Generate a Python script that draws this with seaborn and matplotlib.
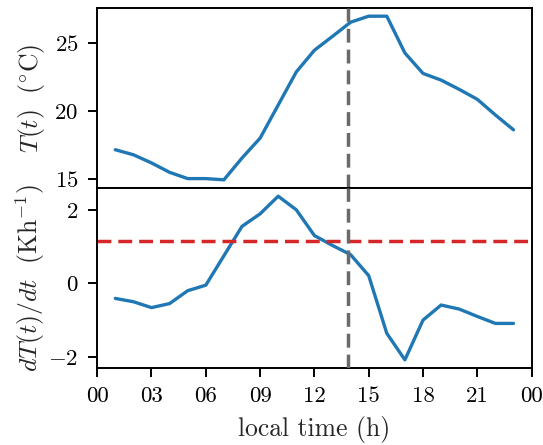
import matplotlib
matplotlib.use("Agg")
import matplotlib.pyplot as plt
import seaborn as sns
import pandas as pd

hours = list(range(1, 24))
temperature = [17.14, 16.77, 16.17, 15.48, 15.02, 15.02, 14.93, 16.53, 17.99, 20.42,
               22.85, 24.44, 25.46, 26.50, 26.94, 26.94, 24.24, 22.74, 22.25, 21.57,
               20.84, 19.69, 18.60]
dTdt = [-0.41, -0.50, -0.66, -0.55, -0.20, -0.05, 0.75, 1.55, 1.89, 2.37,
        2.00, 1.30, 1.03, 0.78, 0.21, -1.36, -2.08, -1.00, -0.59, -0.70,
        -0.90, -1.09, -1.09]
vline_hour = 13.86
threshold = 1.16
xticks = [0, 3, 6, 9, 12, 15, 18, 21, 24]
xticklabels = ["00", "03", "06", "09", "12", "15", "18", "21", "00"]

sns.set_theme(style="ticks")
plt.rcParams["font.family"] = "serif"
plt.rcParams["font.serif"] = ["cmr10", "DejaVu Serif"]
plt.rcParams["mathtext.fontset"] = "cm"
plt.rcParams["axes.formatter.use_mathtext"] = True
plt.rcParams["axes.edgecolor"] = "black"
plt.rcParams["axes.linewidth"] = 1.4
plt.rcParams["xtick.color"] = "black"
plt.rcParams["ytick.color"] = "black"

df = pd.DataFrame({"hour": hours, "T": temperature, "dT": dTdt})

fig, (ax1, ax2) = plt.subplots(2, 1, figsize=(5.43, 4.45), dpi=100, sharex=True)
fig.subplots_adjust(left=0.179, right=0.979, top=0.982, bottom=0.173, hspace=0)

blue = "#1f77b4"
sns.lineplot(data=df, x="hour", y="T", ax=ax1, color=blue, lw=2.4)
sns.lineplot(data=df, x="hour", y="dT", ax=ax2, color=blue, lw=2.4)

dash = (0, (4.0, 2.0))
for ax in (ax1, ax2):
    ax.axvline(vline_hour, color="#6a6a6a", ls=dash, lw=2.5, zorder=3)
ax2.axhline(threshold, color="#d62728", ls=dash, lw=2.5)

ax1.set_yticks([15, 20, 25])
ax2.set_yticks([-2, 0, 2])
ax2.set_xlim(0, 24)
ax2.set_xticks(xticks)
ax2.set_xticklabels(xticklabels)

ax1.set_ylabel(r"$T(t)\ \ (^{\circ}\mathrm{C})$", fontsize=18.5, labelpad=1)
ax2.set_ylabel(r"$dT(t)/dt\ \ (\mathrm{Kh}^{-1})$", fontsize=18.5, labelpad=1)
ax1.set_xlabel("")
ax2.set_xlabel("local time (h)", fontsize=18.5, labelpad=7)

for ax in (ax1, ax2):
    ax.tick_params(axis="both", labelsize=16.5, length=6.5, width=1.4,
                   pad=7, direction="out")
ax1.tick_params(axis="x", length=0)

fig.align_ylabels([ax1, ax2])
fig.savefig("out.png", dpi=100)
